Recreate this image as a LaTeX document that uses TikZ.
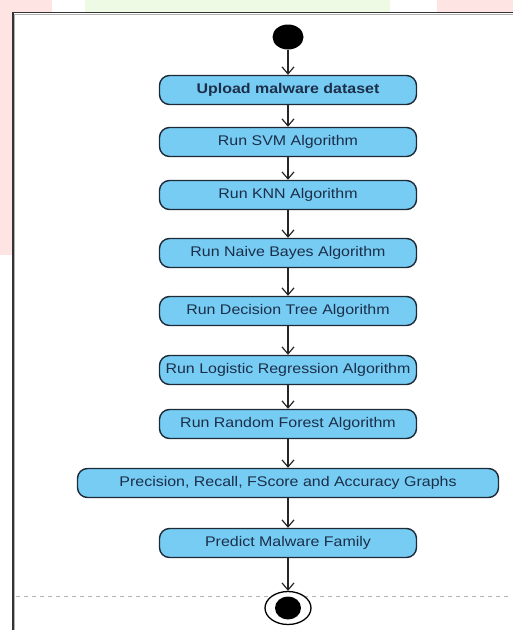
\documentclass[tikz,border=0pt]{standalone}
\usepackage{fontspec}
\setmainfont{Liberation Sans}[FakeStretch=1.14]
\usetikzlibrary{positioning, shapes.geometric}
\usetikzlibrary{arrows, arrows.meta}
\definecolor{actblue}{RGB}{118,204,242}
\definecolor{actline}{RGB}{30,42,56}
\definecolor{acttext}{RGB}{28,46,74}
\definecolor{wmpink}{RGB}{255,228,228}
\definecolor{wmgreen}{RGB}{238,250,228}
\tikzset{
  act/.style={rectangle, rounded corners=10pt, draw=actline, line width=1.4pt,
    fill=actblue, text=acttext, minimum height=29pt, inner sep=0pt,
    font=\fontsize{14}{16}\selectfont},
  flow/.style={draw=black!85, line width=1.2pt,
    -{Straight Barb[length=7pt,width=12pt]}}
}

\begin{document}
\begin{tikzpicture}[x=1pt,y=-1pt]
        \useasboundingbox (0,0) rectangle (513,630);
        % watermark behind the frame
        \fill[wmpink] (0,0) rectangle (52,12);
        \fill[wmpink] (0,0) rectangle (12,255);
        \fill[wmgreen] (85,0) rectangle (390,12);
        \fill[wmpink] (437,0) rectangle (513,12);
        \draw[black!80, line width=1.2pt] (13,630) -- (13,12.5) -- (513,12.5);
        \draw[black!30, line width=1pt] (14.8,630) -- (14.8,14.3) -- (513,14.3);
        \draw[black!30, line width=1pt, dash pattern=on 4pt off 4pt] (16,596) -- (511,596);

        \node[ellipse, fill=black, minimum width=31pt, minimum height=25pt,
        inner sep=0pt] (start) at (288,37) {};
        \foreach \k/\yy/\bw/\txt in {1/90/257/{\textbf{Upload malware dataset}},
          2/142/257/{Run SVM Algorithm}, 3/195/257/{Run KNN Algorithm},
          4/253/257/{Run Naive Bayes Algorithm}, 5/311/257/{Run Decision Tree Algorithm},
          6/370/257/{Run Logistic Regression Algorithm}, 7/424/257/{Run Random Forest Algorithm},
          8/483/421/{Precision, Recall, FScore and Accuracy Graphs},
          9/543/257/{Predict Malware Family}} {
          \node[act, minimum width=\bw pt] (a\k) at (288,\yy) {\txt};
        }
        \node[ellipse, draw=black, fill=white, line width=1.3pt, minimum width=46pt,
        minimum height=33pt, inner sep=0pt] (stop) at (288,608) {};
        \node[ellipse, fill=black, minimum width=26pt, minimum height=23pt,
        inner sep=0pt] (stopdot) at (stop) {};

        \draw[flow] (start) -- (a1);
        \foreach \k in {1,...,8} {
          \pgfmathtruncatemacro{\nk}{\k + 1}
          \draw[flow] (a\k) -- (a\nk);
        }
        \draw[flow] (a9) -- (stop);
      \end{tikzpicture}
\end{document}
